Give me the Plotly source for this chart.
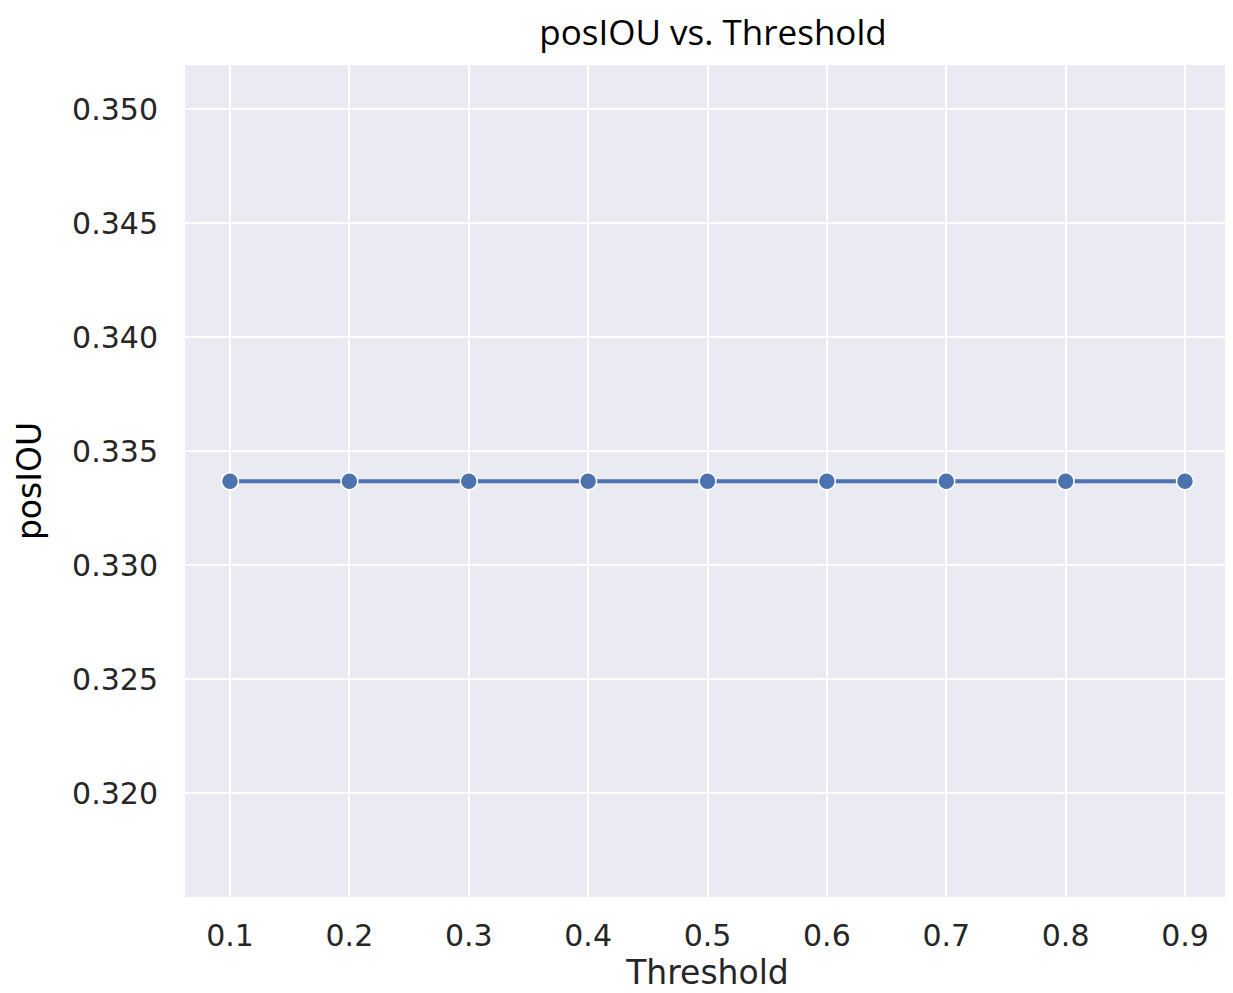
import plotly.graph_objects as go

thresholds = [0.1, 0.2, 0.3, 0.4, 0.5, 0.6, 0.7, 0.8, 0.9]
pos_iou = [0.33367, 0.33367, 0.33367, 0.33367, 0.33367, 0.33367, 0.33367, 0.33367, 0.33367]
y_ticks = [0.320, 0.325, 0.330, 0.335, 0.340, 0.345, 0.350]

fig = go.Figure()
fig.add_trace(go.Scatter(
    x=thresholds, y=pos_iou, mode="lines+markers",
    line=dict(color="#4c72b0", width=4),
    marker=dict(size=17, color="#4c72b0", line=dict(color="white", width=1.5)),
    showlegend=False,
))

tick_font = dict(family="DejaVu Sans", size=30, color="#262626")
fig.update_layout(
    width=1225, height=985,
    margin=dict(l=177, r=3, t=57, b=96),
    paper_bgcolor="white", plot_bgcolor="#eaeaf2",
    title=dict(text="posIOU vs. Threshold", x=0.5755, xanchor="center", y=0.975, yanchor="middle",
               font=dict(family="Open Sans", size=35, color="black")),
    xaxis=dict(range=[0.0623, 0.9377], tickvals=thresholds, ticktext=[f"{t:.1f}" for t in thresholds],
               showgrid=True, gridcolor="white", gridwidth=2, zeroline=False,
               ticks="outside", ticklen=12, tickcolor="rgba(0,0,0,0)",
               tickfont=tick_font,
               title=dict(text="Threshold", font=dict(family="DejaVu Sans", size=33, color="#262626"), standoff=2)),
    yaxis=dict(range=[0.31544, 0.35193], tickvals=y_ticks, ticktext=[f"{t:.3f}" for t in y_ticks],
               showgrid=True, gridcolor="white", gridwidth=2, zeroline=False,
               ticks="outside", ticklen=20, tickcolor="rgba(0,0,0,0)",
               tickfont=tick_font,
               title=dict(text="posIOU", font=dict(family="DejaVu Sans", size=33, color="black"), standoff=20)),
)

fig.write_html("out.html")
